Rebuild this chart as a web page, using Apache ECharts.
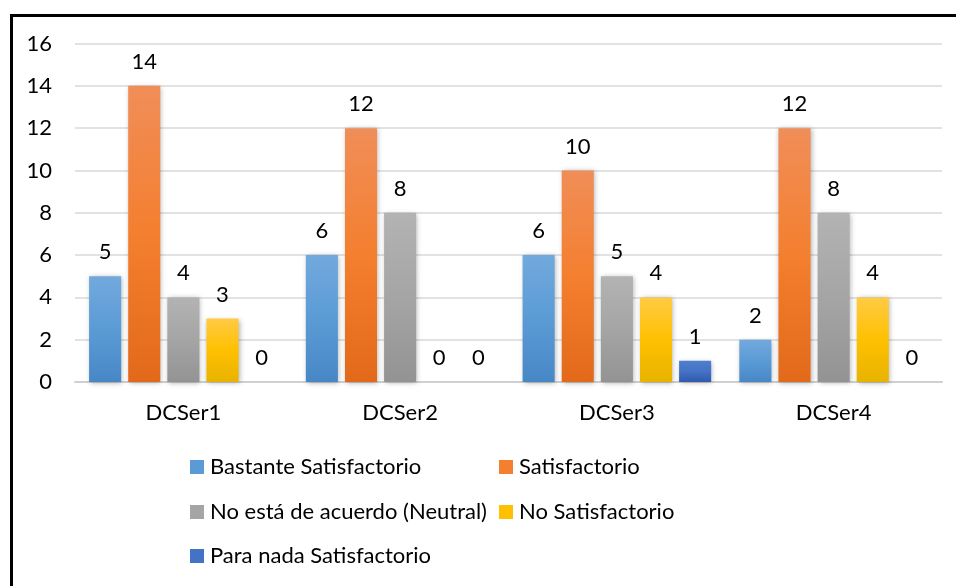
<!DOCTYPE html>
<html>
<head>
<meta charset="utf-8">
<script src="https://cdn.jsdelivr.net/npm/echarts@6/dist/echarts.min.js"></script>
<style>
html,body{margin:0;padding:0;background:#fff;}
#chart{width:956px;height:586px;}
</style>
</head>
<body>
<div id="chart"></div>
<script>
const categories = ['DCSer1', 'DCSer2', 'DCSer3', 'DCSer4'];
const seriesNames = ['Bastante Satisfactorio', 'Satisfactorio', 'No está de acuerdo (Neutral)', 'No Satisfactorio', 'Para nada Satisfactorio'];
const bastante = [5, 6, 6, 2];
const satisfactorio = [14, 12, 10, 12];
const neutral = [4, 8, 5, 8];
const noSatisfactorio = [3, 0, 4, 4];
const paraNada = [0, 0, 1, 0];
const yTicks = [0, 2, 4, 6, 8, 10, 12, 14, 16];

const seriesData = [bastante, satisfactorio, neutral, noSatisfactorio, paraNada];
const gradients = [
  ['#72a9dd', '#5b9bd5', '#4787c6'],
  ['#f08e58', '#f47f2f', '#e2691a'],
  ['#b3b3b3', '#a5a5a5', '#939393'],
  ['#ffcb45', '#ffc000', '#e8b300'],
  ['#4f7fd0', '#4472c4', '#2f5aad']
];
const FONT = 'Lato';
const FS = 22;

const chart = echarts.init(document.getElementById('chart'));

function grad(c) {
  return new echarts.graphic.LinearGradient(0, 0, 0, 1, [
    {offset: 0, color: c[0]}, {offset: 0.5, color: c[1]}, {offset: 1, color: c[2]}
  ]);
}

const series = seriesNames.map((name, i) => ({
  name: name,
  type: 'bar',
  data: seriesData[i],
  barGap: '22%',
  barCategoryGap: '13%',
  itemStyle: {
    color: grad(gradients[i]),
    shadowBlur: 5,
    shadowColor: 'rgba(0,0,0,0.3)',
    shadowOffsetX: 1,
    shadowOffsetY: 1
  },
  label: {
    show: true,
    position: 'top',
    distance: 13,
    color: '#000',
    fontFamily: FONT,
    fontSize: FS
  }
}));

const legendPos = [
  {left: 190, top: 456},
  {left: 499, top: 456},
  {left: 190, top: 501},
  {left: 499, top: 501},
  {left: 190, top: 545}
];
const legends = seriesNames.map((name, i) => ({
  data: [{name: name, itemStyle: {color: gradients[i][1]}}],
  left: legendPos[i].left,
  top: legendPos[i].top,
  padding: 0,
  itemWidth: 14,
  itemHeight: 14,
  itemGap: 0,
  icon: 'rect',
  selectedMode: false,
  textStyle: {fontFamily: FONT, fontSize: FS, color: '#000', padding: [0, 0, 0, 1]}
}));

chart.setOption({
  animation: false,
  graphic: [{
    type: 'rect',
    shape: {x: 11.5, y: 15.5, width: 1200, height: 1200},
    style: {fill: 'none', stroke: '#000', lineWidth: 3},
    silent: true
  }],
  grid: {left: 75, right: 14, top: 43.5, bottom: 204, containLabel: false},
  legend: legends,
  xAxis: {
    type: 'category',
    data: categories,
    axisLine: {lineStyle: {color: '#d0d0d0', width: 2}},
    axisTick: {show: false},
    axisLabel: {color: '#000', fontFamily: FONT, fontSize: FS, margin: 20}
  },
  yAxis: {
    type: 'value',
    min: yTicks[0],
    max: yTicks[yTicks.length - 1],
    interval: yTicks[1] - yTicks[0],
    axisLine: {show: false},
    axisTick: {show: false},
    axisLabel: {color: '#000', fontFamily: FONT, fontSize: FS, margin: 23},
    splitLine: {lineStyle: {color: '#d9d9d9', width: 1.5}}
  },
  series: series
});
</script>
</body>
</html>
